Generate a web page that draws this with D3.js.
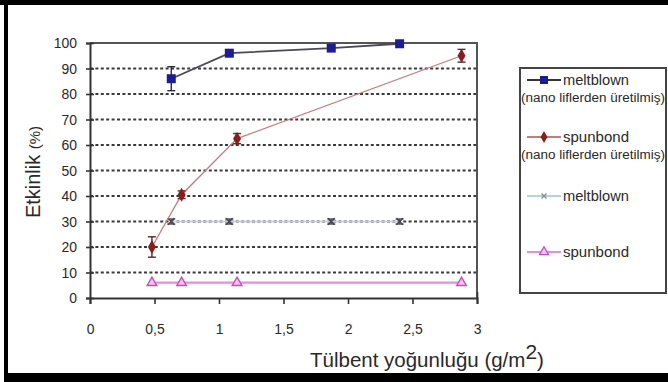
<!DOCTYPE html>
<html>
<head>
<meta charset="utf-8">
<script src="https://cdn.jsdelivr.net/npm/d3@7"></script>
<style>
  body { margin: 0; background: #fff; }
  svg { display: block; font-family: "Liberation Sans", Arial, sans-serif; }
</style>
</head>
<body>
<div id="chart"></div>
<script>
const width = 668;
const height = 382;

// data
const xTicks = [0, 0.5, 1, 1.5, 2, 2.5, 3];
const yTicks = [0, 10, 20, 30, 40, 50, 60, 70, 80, 90, 100];

const meltNanoX = [0.63, 1.08, 1.87, 2.40];
const meltNanoY = [86, 96, 98, 99.7];
const meltNanoErr = [4.7, 1, 0.7, 0.3];

const spunNanoX = [0.48, 0.71, 1.14, 2.88];
const spunNanoY = [20, 40.5, 62.5, 95];
const spunNanoErr = [4, 1.5, 2, 2.5];

const meltX = [0.63, 1.08, 1.87, 2.40];
const meltY = [30, 30, 30, 30];
const meltErr = [1, 1, 1, 1];

const spunX = [0.48, 0.71, 1.14, 2.88];
const spunY = [6, 6, 6, 6];

const svg = d3.select("#chart")
  .append("svg")
  .attr("width", width)
  .attr("height", height);

// black picture frame
svg.append("rect").attr("x", 0).attr("y", 0).attr("width", width).attr("height", 5).attr("fill", "#000");
svg.append("rect").attr("x", 4).attr("y", 0).attr("width", 4).attr("height", height).attr("fill", "#000");
svg.append("rect").attr("x", 4).attr("y", 373).attr("width", width).attr("height", 9).attr("fill", "#000");

const x = d3.scaleLinear().domain([0, 3]).range([90, 477]);
const y = d3.scaleLinear().domain([0, 100]).range([298, 43]);

// dotted grid
svg.append("g")
  .selectAll("line")
  .data(yTicks.filter(v => v > 0 && v < 100))
  .join("line")
  .attr("x1", x(0)).attr("x2", x(3))
  .attr("y1", d => y(d)).attr("y2", d => y(d))
  .attr("stroke", "#3a3a3a")
  .attr("stroke-width", 2)
  .attr("stroke-dasharray", "3,2.4");

// plot frame top / right
svg.append("path")
  .attr("d", `M${x(0)},${y(100)}H${x(3)}V${y(0)}`)
  .attr("fill", "none")
  .attr("stroke", "#555")
  .attr("stroke-width", 2);

// axes
const yAxis = svg.append("g")
  .attr("transform", `translate(${x(0)},0)`)
  .call(d3.axisLeft(y).tickValues(yTicks).tickSize(4).tickPadding(9));
yAxis.selectAll(".tick line").attr("x1", -4).attr("x2", 4);

const xAxis = svg.append("g")
  .attr("transform", `translate(0,${y(0)})`)
  .call(d3.axisBottom(x).tickValues(xTicks).tickSize(6).tickPadding(19)
    .tickFormat(d => String(d).replace(".", ",")));

[yAxis, xAxis].forEach(a => {
  a.select(".domain").attr("stroke", "#333").attr("stroke-width", 2);
  a.selectAll(".tick line").attr("stroke", "#333").attr("stroke-width", 1.6);
  a.selectAll(".tick text")
    .attr("fill", "#2a2a2a")
    .style("font-size", "15.5px")
    .attr("transform", "scale(0.9,1)")
    .attr("x", function() { return +d3.select(this).attr("x") / 0.9; });
});
xAxis.selectAll(".tick text").attr("x", 0)
  .attr("transform", "scale(0.9,1)");
xAxis.selectAll(".tick line").attr("y1", d => d === 3 ? -6 : 0);

// helpers
function errorBars(xs, ys, es, color) {
  const g = svg.append("g").attr("stroke", color).attr("stroke-width", 1.4);
  xs.forEach((xv, i) => {
    const cx = x(xv), y0 = y(ys[i] - es[i]), y1 = y(ys[i] + es[i]);
    g.append("line").attr("x1", cx).attr("x2", cx).attr("y1", y0).attr("y2", y1);
    g.append("line").attr("x1", cx - 4).attr("x2", cx + 4).attr("y1", y0).attr("y2", y0);
    g.append("line").attr("x1", cx - 4).attr("x2", cx + 4).attr("y1", y1).attr("y2", y1);
  });
}
function seriesLine(xs, ys, color, w) {
  svg.append("path")
    .datum(xs.map((v, i) => [v, ys[i]]))
    .attr("d", d3.line().x(d => x(d[0])).y(d => y(d[1])))
    .attr("fill", "none")
    .attr("stroke", color)
    .attr("stroke-width", w);
}

// spunbond plain
seriesLine(spunX, spunY, "#e58ee0", 2.2);
svg.append("g").selectAll("path")
  .data(spunX.map((v, i) => [v, spunY[i]]))
  .join("path")
  .attr("transform", d => `translate(${x(d[0])},${y(d[1])})`)
  .attr("d", d3.symbol(d3.symbolTriangle, 40))
  .attr("fill", "#f4c4ee")
  .attr("stroke", "#c84cbf")
  .attr("stroke-width", 1.4);

// meltblown plain
seriesLine(meltX, meltY, "#b7cfe8", 1.4);
errorBars(meltX, meltY, meltErr, "#555");
svg.append("g").selectAll("path")
  .data(meltX.map((v, i) => [v, meltY[i]]))
  .join("path")
  .attr("transform", d => `translate(${x(d[0])},${y(d[1])})`)
  .attr("d", d3.symbol(d3.symbolX, 30))
  .attr("fill", "none")
  .attr("stroke", "#445")
  .attr("stroke-width", 1.6);

// spunbond nano
seriesLine(spunNanoX, spunNanoY, "#c97a7a", 1.3);
errorBars(spunNanoX, spunNanoY, spunNanoErr, "#5a2a2a");
svg.append("g").selectAll("path")
  .data(spunNanoX.map((v, i) => [v, spunNanoY[i]]))
  .join("path")
  .attr("transform", d => `translate(${x(d[0])},${y(d[1])})`)
  .attr("d", d3.symbol(d3.symbolDiamond, 55))
  .attr("fill", "#8c1c1c");

// meltblown nano
seriesLine(meltNanoX, meltNanoY, "#4a4a55", 1.8);
errorBars(meltNanoX, meltNanoY, meltNanoErr, "#2a2a44");
svg.append("g").selectAll("rect")
  .data(meltNanoX.map((v, i) => [v, meltNanoY[i]]))
  .join("rect")
  .attr("x", d => x(d[0]) - 4.5)
  .attr("y", d => y(d[1]) - 4.5)
  .attr("width", 9)
  .attr("height", 9)
  .attr("fill", "#1c1c9a");

// axis titles
svg.append("text")
  .attr("transform", "translate(40,172) rotate(-90)")
  .attr("text-anchor", "middle")
  .attr("fill", "#2a2a2a")
  .style("font-size", "20px")
  .text("Etkinlik ")
  .append("tspan")
  .style("font-size", "15px")
  .text("(%)");

const xt = svg.append("text")
  .attr("x", 310)
  .attr("y", 367)
  .attr("fill", "#2a2a2a")
  .style("font-size", "20.5px")
  .text("Tülbent yoğunluğu (g/m");
xt.append("tspan").attr("dy", -8).style("font-size", "21px").text("2");
xt.append("tspan").attr("dy", 8).text(")");

// legend
const legend = svg.append("g").attr("class", "legend");
legend.append("rect")
  .attr("x", 520).attr("y", 68)
  .attr("width", 146).attr("height", 225)
  .attr("fill", "#fff")
  .attr("stroke", "#444")
  .attr("stroke-width", 2);

const legendData = [
  { name: "meltblown", sub: "(nano liflerden üretilmiş)", line: "#333", y: 80 },
  { name: "spunbond", sub: "(nano liflerden üretilmiş)", line: "#c97a7a", y: 137 },
  { name: "meltblown", sub: null, line: "#b7cfe8", y: 196 },
  { name: "spunbond", sub: null, line: "#e58ee0", y: 252 }
];

legendData.forEach((d, i) => {
  legend.append("line")
    .attr("x1", 527).attr("x2", 561)
    .attr("y1", d.y).attr("y2", d.y)
    .attr("stroke", d.line)
    .attr("stroke-width", 1.8);
  const cx = 544;
  if (i === 0) {
    legend.append("rect").attr("x", cx - 4).attr("y", d.y - 4).attr("width", 8).attr("height", 8).attr("fill", "#1c1c9a");
  } else if (i === 1) {
    legend.append("path").attr("transform", `translate(${cx},${d.y})`)
      .attr("d", d3.symbol(d3.symbolDiamond, 40)).attr("fill", "#8c1c1c");
  } else if (i === 2) {
    legend.append("path").attr("transform", `translate(${cx},${d.y})`)
      .attr("d", d3.symbol(d3.symbolX, 18)).attr("fill", "none")
      .attr("stroke", "#888").attr("stroke-width", 1.3);
  } else {
    legend.append("path").attr("transform", `translate(${cx},${d.y})`)
      .attr("d", d3.symbol(d3.symbolTriangle, 36))
      .attr("fill", "#f4c4ee").attr("stroke", "#c84cbf").attr("stroke-width", 1.3);
  }
  legend.append("text")
    .attr("x", 563).attr("y", d.y + 5)
    .attr("fill", "#2a2a2a")
    .style("font-size", "14px")
    .attr("textLength", 66)
    .attr("lengthAdjust", "spacingAndGlyphs")
    .text(d.name);
  if (d.sub) {
    legend.append("text")
      .attr("x", 521).attr("y", d.y + 22)
      .attr("fill", "#2a2a2a")
      .style("font-size", "12.5px")
      .attr("textLength", 144)
      .attr("lengthAdjust", "spacingAndGlyphs")
      .text(d.sub);
  }
});
</script>
</body>
</html>
